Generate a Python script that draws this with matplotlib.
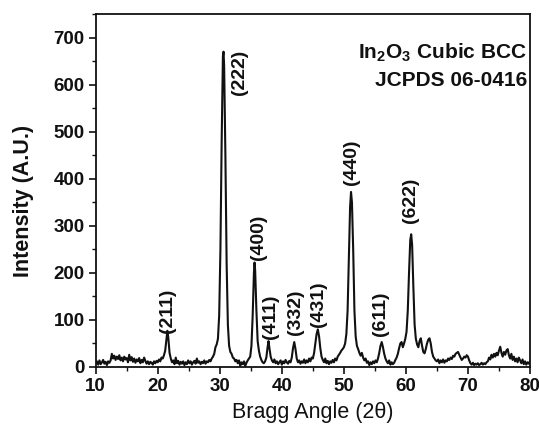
import matplotlib
matplotlib.use("Agg")
import matplotlib.pyplot as plt
from matplotlib.ticker import MultipleLocator

plt.rcParams['font.family'] = ['Liberation Sans', 'DejaVu Sans']
plt.rcParams['mathtext.fontset'] = 'custom'
plt.rcParams['mathtext.rm'] = 'Liberation Sans'
plt.rcParams['mathtext.bf'] = 'Liberation Sans:bold'

# ---- data ----
two_theta = [
    10.0, 10.2, 10.4, 10.6, 10.8, 11.0, 11.2, 11.4, 11.6, 11.8, 12.0, 12.2, 12.4, 12.6, 12.8,
    13.0, 13.2, 13.4, 13.6, 13.8, 14.0, 14.2, 14.4, 14.6, 14.8, 15.0, 15.2, 15.4, 15.6, 15.8,
    16.0, 16.2, 16.4, 16.6, 16.8, 17.0, 17.2, 17.4, 17.6, 17.8, 18.0, 18.2, 18.4, 18.6, 18.8,
    19.0, 19.2, 19.4, 19.6, 19.8, 20.0, 20.2, 20.4, 20.6, 20.8, 21.0, 21.2, 21.4, 21.55, 21.7,
    21.9, 22.1, 22.3, 22.5, 22.7, 22.9, 23.1, 23.3, 23.5, 23.7, 23.9, 24.1, 24.3, 24.5, 24.7,
    24.9, 25.1, 25.3, 25.5, 25.7, 25.9, 26.1, 26.3, 26.5, 26.7, 26.9, 27.1, 27.3, 27.5, 27.7,
    27.9, 28.1, 28.3, 28.5, 28.7, 28.9, 29.1, 29.3, 29.5, 29.7, 29.9, 30.1, 30.3, 30.5, 30.6,
    30.7, 30.9, 31.1, 31.3, 31.5, 31.7, 31.9, 32.1, 32.3, 32.5, 32.7, 32.9, 33.1, 33.3, 33.5,
    33.7, 33.9, 34.1, 34.3, 34.5, 34.7, 34.9, 35.1, 35.3, 35.5, 35.6, 35.7, 35.9, 36.1, 36.3,
    36.5, 36.7, 36.9, 37.1, 37.3, 37.5, 37.7, 37.85, 38.0, 38.2, 38.4, 38.6, 38.8, 39.0, 39.2,
    39.4, 39.6, 39.8, 40.0, 40.2, 40.4, 40.6, 40.8, 41.0, 41.2, 41.4, 41.6, 41.8, 42.0, 42.2,
    42.4, 42.6, 42.8, 43.0, 43.2, 43.4, 43.6, 43.8, 44.0, 44.2, 44.4, 44.6, 44.8, 45.0, 45.2,
    45.4, 45.6, 45.8, 46.0, 46.2, 46.4, 46.6, 46.8, 47.0, 47.2, 47.4, 47.6, 47.8, 48.0, 48.2,
    48.4, 48.6, 48.8, 49.0, 49.2, 49.4, 49.6, 49.8, 50.0, 50.2, 50.4, 50.6, 50.8, 51.0, 51.15,
    51.3, 51.5, 51.7, 51.9, 52.1, 52.3, 52.5, 52.7, 52.9, 53.1, 53.3, 53.5, 53.7, 53.9, 54.1,
    54.3, 54.5, 54.7, 54.9, 55.1, 55.3, 55.5, 55.7, 55.9, 56.1, 56.3, 56.5, 56.7, 56.9, 57.1,
    57.3, 57.5, 57.7, 57.9, 58.1, 58.3, 58.5, 58.7, 58.9, 59.1, 59.3, 59.5, 59.7, 59.9, 60.1,
    60.3, 60.5, 60.7, 60.85, 61.0, 61.2, 61.4, 61.6, 61.8, 62.0, 62.2, 62.4, 62.6, 62.8, 63.0,
    63.2, 63.4, 63.6, 63.8, 64.0, 64.2, 64.4, 64.6, 64.8, 65.0, 65.2, 65.4, 65.6, 65.8, 66.0,
    66.2, 66.4, 66.6, 66.8, 67.0, 67.2, 67.4, 67.6, 67.8, 68.0, 68.2, 68.4, 68.6, 68.8, 69.0,
    69.2, 69.4, 69.6, 69.8, 70.0, 70.2, 70.4, 70.6, 70.8, 71.0, 71.2, 71.4, 71.6, 71.8, 72.0,
    72.2, 72.4, 72.6, 72.8, 73.0, 73.2, 73.4, 73.6, 73.8, 74.0, 74.2, 74.4, 74.6, 74.8, 75.0,
    75.2, 75.4, 75.6, 75.8, 76.0, 76.2, 76.4, 76.6, 76.8, 77.0, 77.2, 77.4, 77.6, 77.8, 78.0,
    78.2, 78.4, 78.6, 78.8, 79.0, 79.2, 79.4, 79.6, 79.8, 80.0,
]
intensity = [
    8, 12, 5, 14, 6, 10, 15, 7, 11, 4, 12, 9, 14, 28, 18,
    24, 15, 22, 17, 25, 14, 20, 12, 22, 16, 19, 10, 26, 14, 21,
    11, 18, 9, 16, 12, 19, 8, 15, 10, 20, 13, 7, 12, 6, 11,
    9, 5, 12, 8, 13, 10, 16, 12, 20, 18, 25, 35, 60, 77, 62,
    30, 18, 10, 14, 6, 20, 8, 13, 5, 11, 7, 12, 4, 10, 6,
    14, 8, 12, 5, 10, 13, 7, 18, 9, 12, 6, 11, 8, 14, 7,
    12, 10, 15, 12, 18, 22, 28, 42, 48, 60, 110, 250, 480, 660, 670,
    640, 450, 220, 90, 45, 32, 28, 20, 18, 12, 15, 8, 14, 3, 10,
    6, 12, 2, 9, 14, 18, 22, 45, 110, 200, 222, 205, 120, 55, 35,
    22, 15, 10, 8, 12, 20, 42, 55, 40, 22, 14, 10, 16, 8, 12,
    6, 10, 14, 5, 12, 8, 15, 10, 7, 13, 10, 20, 40, 53, 38,
    18, 10, 14, 7, 12, 9, 16, 8, 14, 10, 18, 12, 20, 18, 30,
    50, 70, 80, 65, 40, 22, 15, 10, 18, 8, 13, 6, 12, 9, 15,
    10, 18, 14, 22, 26, 30, 35, 38, 42, 50, 70, 120, 230, 340, 372,
    350, 250, 120, 65, 45, 38, 30, 24, 30, 20, 14, 18, 9, 12, 4,
    10, 6, 12, 8, 14, 10, 18, 30, 45, 53, 42, 28, 18, 12, 8,
    14, 5, 10, 6, 9, 15, 20, 28, 40, 50, 53, 42, 50, 60, 75,
    120, 200, 270, 282, 260, 170, 90, 60, 48, 42, 55, 61, 45, 32, 29,
    38, 50, 58, 61, 50, 32, 22, 18, 14, 12, 16, 8, 14, 10, 16,
    9, 14, 12, 18, 15, 20, 17, 24, 22, 28, 30, 32, 26, 20, 15,
    18, 22, 20, 25, 22, 14, 8, 5, 9, 4, 7, 5, 8, 4, 6,
    9, 5, 8, 6, 10, 12, 20, 16, 26, 20, 28, 22, 30, 25, 35,
    43, 30, 22, 32, 26, 35, 38, 25, 18, 28, 15, 22, 12, 18, 10,
    20, 14, 8, 16, 6, 12, 5, 10, 7, 12,
]

peak_labels = ['(211)', '(222)', '(400)', '(411)', '(332)', '(431)', '(440)', '(611)', '(622)']
label_x = [21.6, 33.2, 36.2, 38.1, 42.15, 45.9, 51.3, 55.85, 60.7]
label_y = [73, 578, 227, 59, 67, 85, 386, 65, 305]

x_ticks = [10, 20, 30, 40, 50, 60, 70, 80]
y_ticks = [0, 100, 200, 300, 400, 500, 600, 700]

# ---- figure ----
fig = plt.figure(figsize=(5.39, 4.26), dpi=100)
ax = fig.add_axes([0.1776, 0.1385, 0.8057, 0.8286])

ax.plot(two_theta, intensity, color='#111111', lw=1.5)

ax.set_xlim(10, 80)
ax.set_ylim(0, 750)
ax.set_xticks(x_ticks)
ax.set_yticks(y_ticks)
ax.xaxis.set_minor_locator(MultipleLocator(5))
ax.yaxis.set_minor_locator(MultipleLocator(50))
ax.tick_params(which='major', direction='out', length=5, width=1.2, labelsize=13.5,
               colors='#111111', pad=3)
ax.tick_params(which='minor', direction='out', length=3.2, width=1.0, colors='#111111')
ax.tick_params(top=False, right=False)
for lab in ax.get_xticklabels() + ax.get_yticklabels():
    lab.set_fontweight('bold')
for sp in ax.spines.values():
    sp.set_linewidth(1.3)
    sp.set_color('#111111')

for t, xv, yv in zip(peak_labels, label_x, label_y):
    ax.text(xv, yv, t, rotation=90, ha='center', va='bottom', fontsize=14,
            fontweight='bold', color='#111111')

ax.text(0.993, 0.89, r'In$_\mathbf{2}$O$_\mathbf{3}$ Cubic BCC', transform=ax.transAxes,
        ha='right', va='center', fontsize=15, fontweight='bold', color='#111111')
ax.text(0.993, 0.813, 'JCPDS 06-0416', transform=ax.transAxes,
        ha='right', va='center', fontsize=15, fontweight='bold', color='#111111')

ax.set_ylabel('Intensity (A.U.)', fontsize=15.5, fontweight='bold', color='#111111')
ax.yaxis.set_label_coords(-0.143, 0.47)
ax.set_xlabel('Bragg Angle (2θ)', fontsize=15.5, color='#111111',
              family=['Liberation Sans', 'DejaVu Sans'])
ax.xaxis.set_label_coords(0.5, -0.10)

fig.savefig('out.png', dpi=100)
